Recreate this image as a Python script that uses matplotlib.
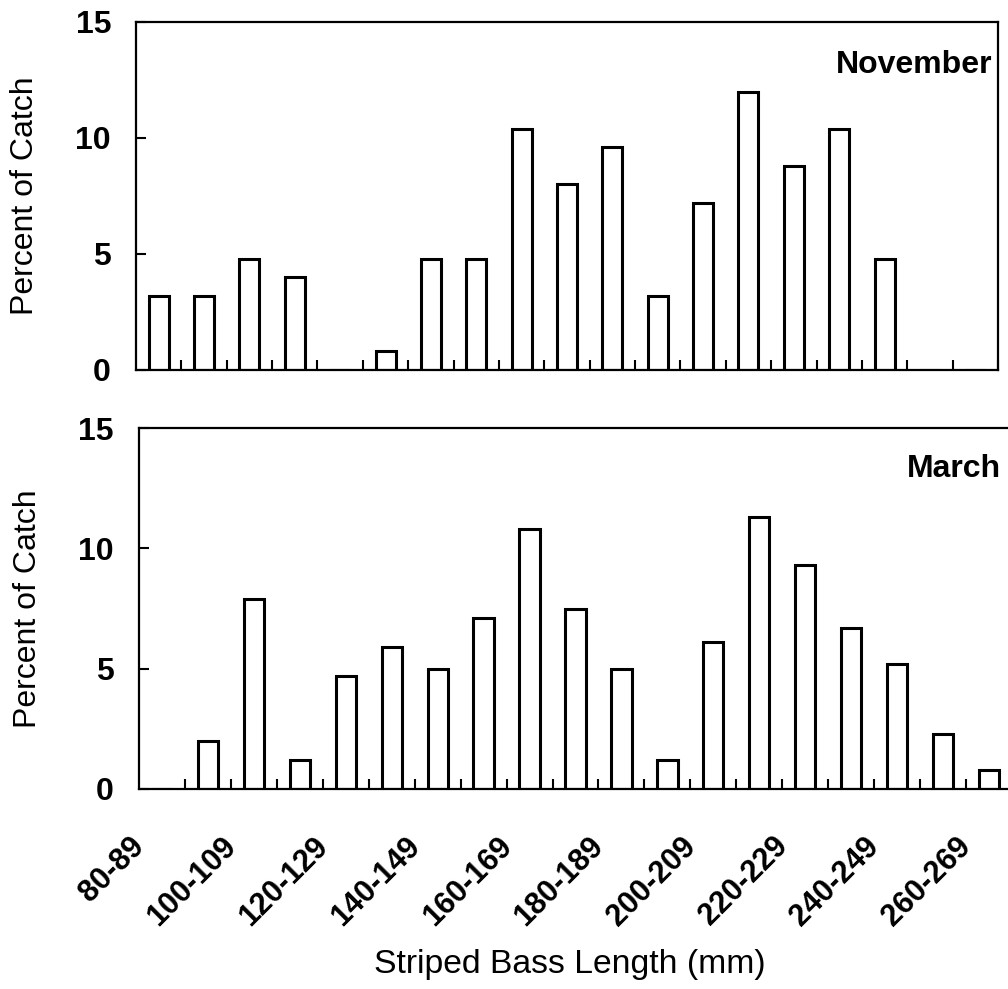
import matplotlib
matplotlib.use("Agg")
import matplotlib.pyplot as plt
import matplotlib.transforms as mtransforms
import numpy as np

plt.rcParams['font.family'] = ['Liberation Sans', 'DejaVu Sans']

categories = ["80-89", "90-99", "100-109", "110-119", "120-129", "130-139",
              "140-149", "150-159", "160-169", "170-179", "180-189", "190-199",
              "200-209", "210-219", "220-229", "230-239", "240-249", "250-259",
              "260-269"]
november = [3.2, 3.2, 4.8, 4.0, 0.0, 0.8, 4.8, 4.8, 10.4, 8.0, 9.6, 3.2,
            7.2, 12.0, 8.8, 10.4, 4.8, 0.0, 0.0]
march = [0.0, 2.0, 7.9, 1.2, 4.7, 5.9, 5.0, 7.1, 10.8, 7.5, 5.0, 1.2,
         6.1, 11.3, 9.3, 6.7, 5.2, 2.3, 0.8]
yticks = [0, 5, 10, 15]

W, H = 1008, 989
fig = plt.figure(figsize=(W / 100, H / 100), dpi=100)

def px_axes(l, r, t, b):
    return fig.add_axes([l / W, 1 - b / H, (r - l) / W, (b - t) / H])

ax1 = px_axes(136, 998, 22, 370)
ax2 = px_axes(139, 1012, 428, 789)

x = np.arange(len(categories))
for ax, vals, label, lx, ly in [(ax1, november, "November", 0.993, 0.853),
                                (ax2, march, "March", 0.987, 0.864)]:
    ax.bar(x, vals, width=0.44, facecolor='white', edgecolor='black',
           linewidth=2.2)
    ax.set_xlim(-0.5, len(categories) - 0.5)
    ax.set_ylim(0, 15)
    ax.set_yticks(yticks)
    ax.set_yticklabels([str(v) for v in yticks], fontsize=23, fontweight='bold')
    ax.tick_params(axis='y', direction='in', length=7, width=1.5, pad=18)
    ax.set_xticks(x + 0.5, minor=True)
    ax.set_xticks(x[::2] if ax is ax2 else [])
    ax.tick_params(axis='x', which='minor', direction='in', length=7,
                   width=1.5, top=False)
    ax.tick_params(axis='x', which='major', length=0, pad=0)
    ax.xaxis.set_minor_formatter(plt.NullFormatter())
    for s in ax.spines.values():
        s.set_linewidth(1.6)
    ax.set_ylabel("Percent of Catch", fontsize=23)
    ax.text(lx, ly, label, transform=ax.transAxes,
            ha='right', va='baseline', fontsize=23, fontweight='bold')

ax1.yaxis.set_label_coords((25 - 136) / 862, 0.5)
ax2.yaxis.set_label_coords((28 - 139) / 873, 0.5)
ax1.yaxis.label.set_va('center')
ax2.yaxis.label.set_va('center')

ax2.set_xticklabels(categories[::2], fontsize=22, fontweight='bold',
                    rotation=45, ha='right', va='center',
                    rotation_mode='anchor')
offset = mtransforms.ScaledTranslation(-16 / 72, -38 / 72, fig.dpi_scale_trans)
for lab in ax2.get_xticklabels():
    lab.set_transform(lab.get_transform() + offset)

fig.text(570 / W, 1 - 973 / H, "Striped Bass Length (mm)", ha='center',
         va='baseline', fontsize=24.3)

fig.savefig("out.png", dpi=100, facecolor='white')
